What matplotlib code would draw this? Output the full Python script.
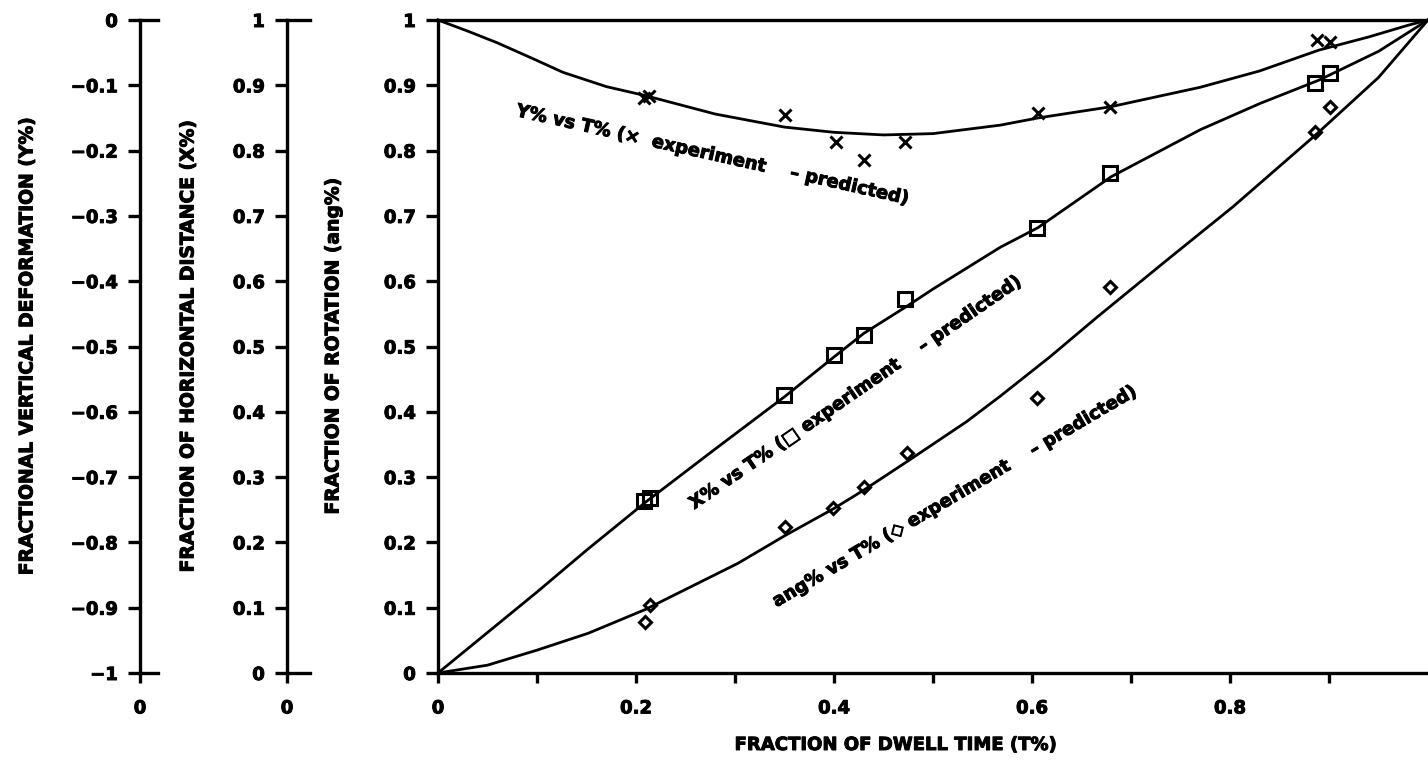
import matplotlib
matplotlib.use("Agg")
import matplotlib.pyplot as plt
import matplotlib.patheffects as pe
from matplotlib.ticker import FuncFormatter

plt.rcParams['font.family'] = ['DejaVu Sans']
plt.rcParams['font.weight'] = 'bold'

# experiment points
t_y = [0.208, 0.213, 0.350, 0.402, 0.430, 0.472, 0.606, 0.679, 0.888, 0.901]
y_exp = [0.880, 0.884, 0.855, 0.813, 0.786, 0.813, 0.857, 0.867, 0.969, 0.966]

t_x = [0.208, 0.214, 0.349, 0.400, 0.430, 0.472, 0.605, 0.679, 0.886, 0.901]
x_exp = [0.263, 0.268, 0.426, 0.487, 0.518, 0.572, 0.681, 0.765, 0.903, 0.919]

t_a = [0.209, 0.214, 0.350, 0.399, 0.430, 0.474, 0.605, 0.679, 0.886, 0.901]
a_exp = [0.078, 0.104, 0.224, 0.253, 0.285, 0.337, 0.421, 0.591, 0.829, 0.867]

# predicted curves
ty_pred = [0.0, 0.03, 0.06, 0.10, 0.126, 0.17, 0.21, 0.28, 0.35, 0.40, 0.45, 0.50,
           0.568, 0.606, 0.679, 0.77, 0.83, 0.89, 0.94, 0.98, 1.0]
y_pred = [1.0, 0.983, 0.965, 0.938, 0.920, 0.898, 0.884, 0.856, 0.836, 0.828, 0.824,
          0.826, 0.839, 0.850, 0.867, 0.897, 0.922, 0.954, 0.974, 0.992, 1.0]

tx_pred = [0.0, 0.05, 0.10, 0.15, 0.21, 0.28, 0.35, 0.40, 0.43, 0.474, 0.50,
           0.568, 0.606, 0.68, 0.77, 0.83, 0.89, 0.95, 1.0]
x_pred = [0.0, 0.062, 0.124, 0.188, 0.262, 0.343, 0.423, 0.484, 0.520, 0.562, 0.588,
          0.652, 0.682, 0.760, 0.832, 0.872, 0.908, 0.952, 1.0]

ta_pred = [0.0, 0.05, 0.10, 0.152, 0.209, 0.303, 0.35, 0.40, 0.43, 0.474, 0.534,
           0.568, 0.618, 0.665, 0.736, 0.803, 0.888, 0.95, 1.0]
a_pred = [0.0, 0.012, 0.035, 0.061, 0.097, 0.168, 0.210, 0.252, 0.280, 0.324, 0.385,
          0.424, 0.484, 0.544, 0.632, 0.714, 0.826, 0.912, 1.0]

ylab1 = "FRACTIONAL VERTICAL DEFORMATION (Y%)"
ylab2 = "FRACTION OF HORIZONTAL DISTANCE (X%)"
ylab3 = "FRACTION OF ROTATION (ang%)"
xlab = "FRACTION OF DWELL TIME (T%)"

W, H = 1428, 766
fig = plt.figure(figsize=(W / 100, H / 100), dpi=100)

bot = (H - 673) / H
top = (H - 20) / H
hgt = top - bot

spine_w = 2.4
heavy = [pe.withStroke(linewidth=0.7, foreground='black')]
fmt = FuncFormatter(lambda v, p: ('%g' % round(v, 2)).replace('-', '\u2212'))


def style(ax):
    for s in ax.spines.values():
        s.set_linewidth(spine_w)
    ax.tick_params(axis='both', which='both', direction='out', width=spine_w,
                   labelsize=13)
    ax.tick_params(axis='y', length=9, pad=7)
    ax.tick_params(axis='x', which='both', length=7, pad=12)
    for lbl in ax.get_xticklabels() + ax.get_yticklabels():
        lbl.set_path_effects(heavy)


# small axis for Y%
ax1 = fig.add_axes([140 / W, bot, 18 / W, hgt])
ax1.set_ylim(-1, 0)
ax1.set_xlim(0, 1)
ax1.set_yticks([-1 + 0.1 * i for i in range(11)])
ax1.set_xticks([0])
ax1.yaxis.set_major_formatter(fmt)
ax1.xaxis.set_major_formatter(fmt)
ax1.spines['right'].set_visible(False)
style(ax1)

# small axis for X%
ax2 = fig.add_axes([287 / W, bot, 23 / W, hgt])
ax2.set_ylim(0, 1)
ax2.set_xlim(0, 1)
ax2.set_yticks([0.1 * i for i in range(11)])
ax2.set_xticks([0])
ax2.yaxis.set_major_formatter(fmt)
ax2.xaxis.set_major_formatter(fmt)
ax2.spines['right'].set_visible(False)
style(ax2)

# main axes
ax = fig.add_axes([438 / W, bot, 1 - 438 / W, hgt])
ax.set_xlim(0, 1)
ax.set_ylim(0, 1)
ax.set_yticks([0.1 * i for i in range(11)])
ax.set_xticks([0, 0.2, 0.4, 0.6, 0.8])
ax.set_xticks([0.1, 0.3, 0.5, 0.7, 0.9], minor=True)
ax.yaxis.set_major_formatter(fmt)
ax.xaxis.set_major_formatter(fmt)
ax.spines['right'].set_visible(False)
style(ax)

lw = 2.0
ax.plot(ty_pred, y_pred, color='black', lw=lw, clip_on=False)
ax.plot(tx_pred, x_pred, color='black', lw=lw, clip_on=False)
ax.plot(ta_pred, a_pred, color='black', lw=lw, clip_on=False)

ax.plot(t_y, y_exp, ls='none', marker='x', ms=9, mew=2.2, color='black')
ax.plot(t_x, x_exp, ls='none', marker='s', ms=10, mew=2.2, mfc='none', color='black')
ax.plot(t_a, a_exp, ls='none', marker='D', ms=6, mew=2.2, mfc='none', color='black')

ann = dict(fontsize=13, fontweight='bold', ha='center', va='center',
           rotation_mode='anchor', transform=fig.transFigure, path_effects=heavy)
fig.text(712 / W, 1 - 155 / H, "Y% vs T% (\u00d7  experiment    \u2013 predicted)",
         rotation=-12.7, **ann)
fig.text(855 / W, 1 - 393 / H, "X% vs T% (\u25a1 experiment    \u2013 predicted)",
         rotation=34.5, **ann)
fig.text(954 / W, 1 - 497 / H, "ang% vs T% (\u25c7 experiment    \u2013 predicted)",
         rotation=30.5, **ann)

lab = dict(fontsize=13.5, fontweight='bold', ha='center', va='center', rotation=90,
           path_effects=heavy)
ymid = 1 - 346 / H
fig.text(27 / W, ymid, ylab1, **lab)
fig.text(188 / W, ymid, ylab2, **lab)
fig.text(333 / W, ymid, ylab3, **lab)
fig.text(895 / W, 1 - 745 / H, xlab, fontsize=13, fontweight='bold',
         ha='center', va='center', path_effects=heavy)

fig.savefig("out.png", dpi=100)
